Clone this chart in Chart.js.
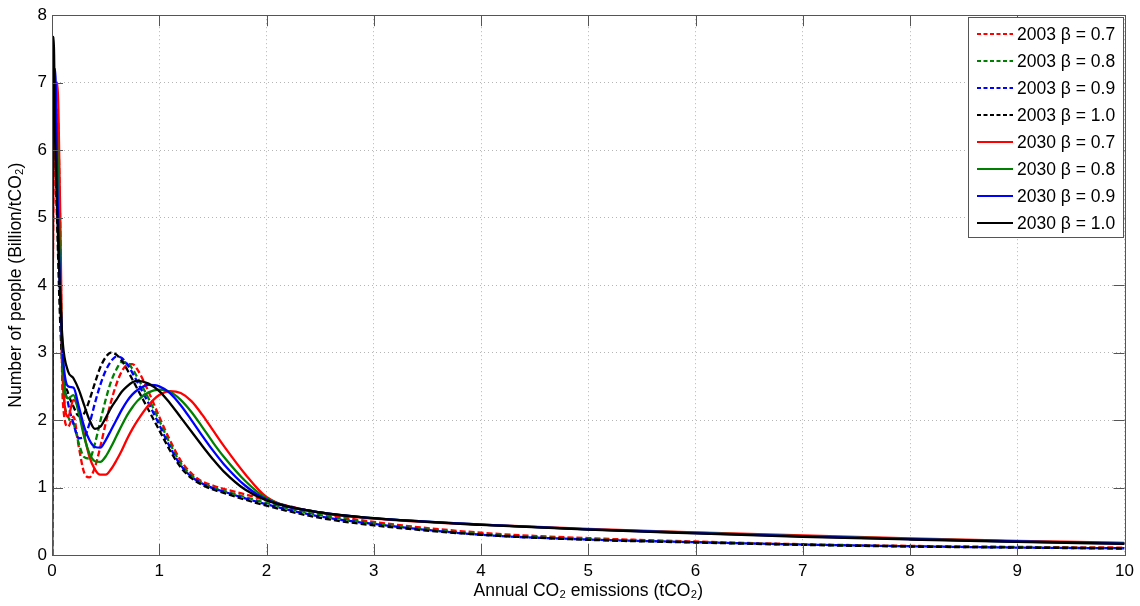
<!DOCTYPE html>
<html>
<head>
<meta charset="utf-8">
<script src="https://cdn.jsdelivr.net/npm/chart.js@4.4.0/dist/chart.umd.min.js"></script>
<style>
html,body{margin:0;padding:0;background:#fff;}
#wrap{width:1140px;height:606px;position:relative;}
</style>
</head>
<body>
<div id="wrap"><canvas id="c" width="1140" height="606"></canvas></div>
<script>
// ---- data ----
const X = [0, 0.005, 0.015, 0.03, 0.05, 0.075, 0.1, 0.15, 0.2, 0.25, 0.3, 0.35, 0.4, 0.45, 0.5, 0.55, 0.6, 0.65, 0.7, 0.75, 0.8, 0.9, 1.0, 1.1, 1.2, 1.3, 1.4, 1.5, 1.6, 1.8, 2.0, 2.5, 3, 4, 5, 6, 7, 8, 9, 10];

const y2003_b07 = [0, 3.2, 5.5, 6.3, 6.6, 5.0, 2.3, 1.9, 2.05, 1.6, 1.22, 1.15, 1.3, 1.6, 1.95, 2.27, 2.53, 2.72, 2.82, 2.83, 2.74, 2.42, 2.05, 1.7, 1.4, 1.21, 1.09, 1.03, 0.98, 0.9, 0.81, 0.62, 0.49, 0.33, 0.25, 0.2, 0.16, 0.135, 0.12, 0.11];
const y2003_b08 = [0, 4.2, 6.3, 6.7, 5.9, 4.2, 2.6, 2.05, 1.95, 1.65, 1.45, 1.43, 1.65, 1.98, 2.3, 2.57, 2.75, 2.86, 2.85, 2.76, 2.62, 2.32, 1.99, 1.65, 1.36, 1.18, 1.07, 1.0, 0.95, 0.86, 0.77, 0.59, 0.47, 0.31, 0.235, 0.19, 0.155, 0.13, 0.115, 0.1];
const y2003_b09 = [0, 5.0, 6.8, 7.0, 5.3, 3.9, 2.8, 2.25, 1.95, 1.73, 1.75, 1.95, 2.25, 2.52, 2.73, 2.87, 2.94, 2.92, 2.83, 2.7, 2.55, 2.25, 1.93, 1.6, 1.33, 1.16, 1.06, 0.99, 0.94, 0.84, 0.75, 0.57, 0.46, 0.3, 0.23, 0.19, 0.155, 0.13, 0.11, 0.1];
const y2003_b10 = [0, 6.0, 7.3, 6.0, 4.8, 3.5, 2.75, 2.4, 2.2, 2.06, 2.1, 2.3, 2.55, 2.78, 2.93, 3.0, 2.97, 2.88, 2.75, 2.6, 2.45, 2.15, 1.85, 1.55, 1.3, 1.14, 1.04, 0.97, 0.92, 0.82, 0.73, 0.55, 0.44, 0.3, 0.225, 0.185, 0.15, 0.125, 0.11, 0.095];
const y2030_b07 = [0, 3.5, 5.8, 6.7, 7.0, 5.2, 2.7, 2.05, 2.3, 2.15, 1.78, 1.45, 1.27, 1.19, 1.19, 1.27, 1.4, 1.55, 1.72, 1.87, 2.0, 2.22, 2.37, 2.43, 2.4, 2.28, 2.08, 1.85, 1.62, 1.2, 0.86, 0.63, 0.54, 0.45, 0.385, 0.335, 0.29, 0.245, 0.21, 0.18];
const y2030_b08 = [0, 4.5, 6.5, 6.9, 6.0, 4.3, 2.85, 2.32, 2.37, 2.1, 1.75, 1.5, 1.39, 1.38, 1.46, 1.6, 1.76, 1.92, 2.07, 2.19, 2.29, 2.41, 2.45, 2.42, 2.3, 2.12, 1.9, 1.67, 1.46, 1.1, 0.84, 0.63, 0.545, 0.45, 0.38, 0.33, 0.28, 0.24, 0.2, 0.175];
const y2030_b09 = [0, 5.5, 7.0, 7.2, 5.4, 4.0, 3.0, 2.5, 2.48, 2.2, 1.9, 1.7, 1.6, 1.59, 1.7, 1.85, 2.0, 2.15, 2.28, 2.38, 2.45, 2.52, 2.5, 2.4, 2.22, 2.0, 1.77, 1.55, 1.35, 1.03, 0.82, 0.63, 0.545, 0.45, 0.38, 0.325, 0.275, 0.235, 0.2, 0.17];
const y2030_b10 = [0, 6.5, 7.68, 6.1, 5.0, 3.9, 3.15, 2.72, 2.62, 2.45, 2.22, 2.0, 1.87, 1.9, 2.03, 2.18, 2.3, 2.42, 2.5, 2.56, 2.58, 2.54, 2.43, 2.25, 2.04, 1.83, 1.62, 1.42, 1.24, 0.97, 0.81, 0.63, 0.545, 0.445, 0.375, 0.32, 0.27, 0.23, 0.195, 0.165];

const seriesLabels = ['2003 β = 0.7', '2003 β = 0.8', '2003 β = 0.9', '2003 β = 1.0',
                      '2030 β = 0.7', '2030 β = 0.8', '2030 β = 0.9', '2030 β = 1.0'];
const seriesValues = [y2003_b07, y2003_b08, y2003_b09, y2003_b10, y2030_b07, y2030_b08, y2030_b09, y2030_b10];
const xTicks = [0,1,2,3,4,5,6,7,8,9,10];
const yTicks = [0,1,2,3,4,5,6,7,8];

// ---- styles ----
const colors = ['#ff0000', '#008000', '#0000ff', '#000000', '#ff0000', '#008000', '#0000ff', '#000000'];
const FONT = "'Liberation Sans', Arial, Helvetica, sans-serif";

const datasets = seriesValues.map((vals, i) => ({
  label: seriesLabels[i],
  data: vals.map((v, k) => ({x: X[k], y: v})),
  borderColor: colors[i],
  backgroundColor: colors[i],
  borderWidth: 2.3,
  borderDash: i < 4 ? [6, 3] : [],
  pointRadius: 0,
  fill: false,
  cubicInterpolationMode: 'monotone',
  order: 7 - i
}));

const boxPlugin = {
  id: 'boxPlugin',
  afterDatasetsDraw(chart) {
    const {ctx, chartArea: a, scales} = chart;
    ctx.save();
    ctx.strokeStyle = '#555555';
    ctx.lineWidth = 1;
    ctx.setLineDash([]);
    ctx.strokeRect(Math.round(a.left) + 0.5, Math.round(a.top) + 0.5, Math.round(a.right - a.left), Math.round(a.bottom - a.top));
    const L = 11;
    ctx.beginPath();
    xTicks.forEach(t => {
      const px = Math.round(scales.x.getPixelForValue(t)) + 0.5;
      ctx.moveTo(px, a.bottom); ctx.lineTo(px, a.bottom - L);
      ctx.moveTo(px, a.top); ctx.lineTo(px, a.top + L);
    });
    yTicks.forEach(t => {
      const py = Math.round(scales.y.getPixelForValue(t)) + 0.5;
      ctx.moveTo(a.left, py); ctx.lineTo(a.left + L, py);
      ctx.moveTo(a.right, py); ctx.lineTo(a.right - L, py);
    });
    ctx.stroke();
    ctx.restore();
  },
  afterDraw(chart) {
    const ctx = chart.ctx;
    const bx = 968.5, by = 17.5, bw = 155, bh = 220;
    ctx.save();
    ctx.fillStyle = '#ffffff';
    ctx.fillRect(bx, by, bw, bh);
    ctx.strokeStyle = '#555555';
    ctx.lineWidth = 1;
    ctx.setLineDash([]);
    ctx.strokeRect(bx, by, bw, bh);
    ctx.font = '17.5px ' + FONT;
    ctx.textBaseline = 'middle';
    ctx.textAlign = 'left';
    chart.data.datasets.forEach((ds, i) => {
      const cy = 34 + 27 * i;
      ctx.strokeStyle = ds.borderColor;
      ctx.lineWidth = 2;
      ctx.setLineDash(ds.borderDash.length ? [4, 2.5] : []);
      ctx.beginPath();
      ctx.moveTo(977, cy); ctx.lineTo(1013, cy);
      ctx.stroke();
      ctx.fillStyle = '#000';
      ctx.fillText(ds.label, 1017, cy + 1);
    });
    ctx.restore();
  }
};

new Chart(document.getElementById('c'), {
  type: 'line',
  data: { datasets },
  plugins: [boxPlugin],
  options: {
    responsive: false,
    animation: false,
    devicePixelRatio: 1,
    layout: { padding: { left: 0, top: 11, right: 13, bottom: 0 } },
    plugins: { legend: { display: false }, tooltip: { enabled: false } },
    scales: {
      x: {
        type: 'linear', min: 0, max: 10,
        afterFit: s => { s.height = 51; },
        afterBuildTicks: s => { s.ticks = xTicks.map(v => ({value: v})); },
        ticks: { color: '#000', font: { family: FONT, size: 17 }, padding: 6, maxRotation: 0 },
        grid: { color: '#b5b5b5', lineWidth: 1, drawTicks: false },
        border: { display: false, dash: [1, 3] },
        title: { display: true, text: 'Annual CO₂ emissions (tCO₂)', color: '#000', font: { family: FONT, size: 17.5 }, padding: { top: 0, bottom: 4 } }
      },
      y: {
        type: 'linear', min: 0, max: 8,
        afterFit: s => { s.width = 52; },
        afterBuildTicks: s => { s.ticks = yTicks.map(v => ({value: v})); },
        ticks: { color: '#000', font: { family: FONT, size: 17 }, padding: 5 },
        grid: { color: '#b5b5b5', lineWidth: 1, drawTicks: false },
        border: { display: false, dash: [1, 3] },
        title: { display: true, text: 'Number of people (Billion/tCO₂)', color: '#000', font: { family: FONT, size: 17.5 }, padding: { top: 6, bottom: 0 } }
      }
    }
  }
});
</script>
</body>
</html>
